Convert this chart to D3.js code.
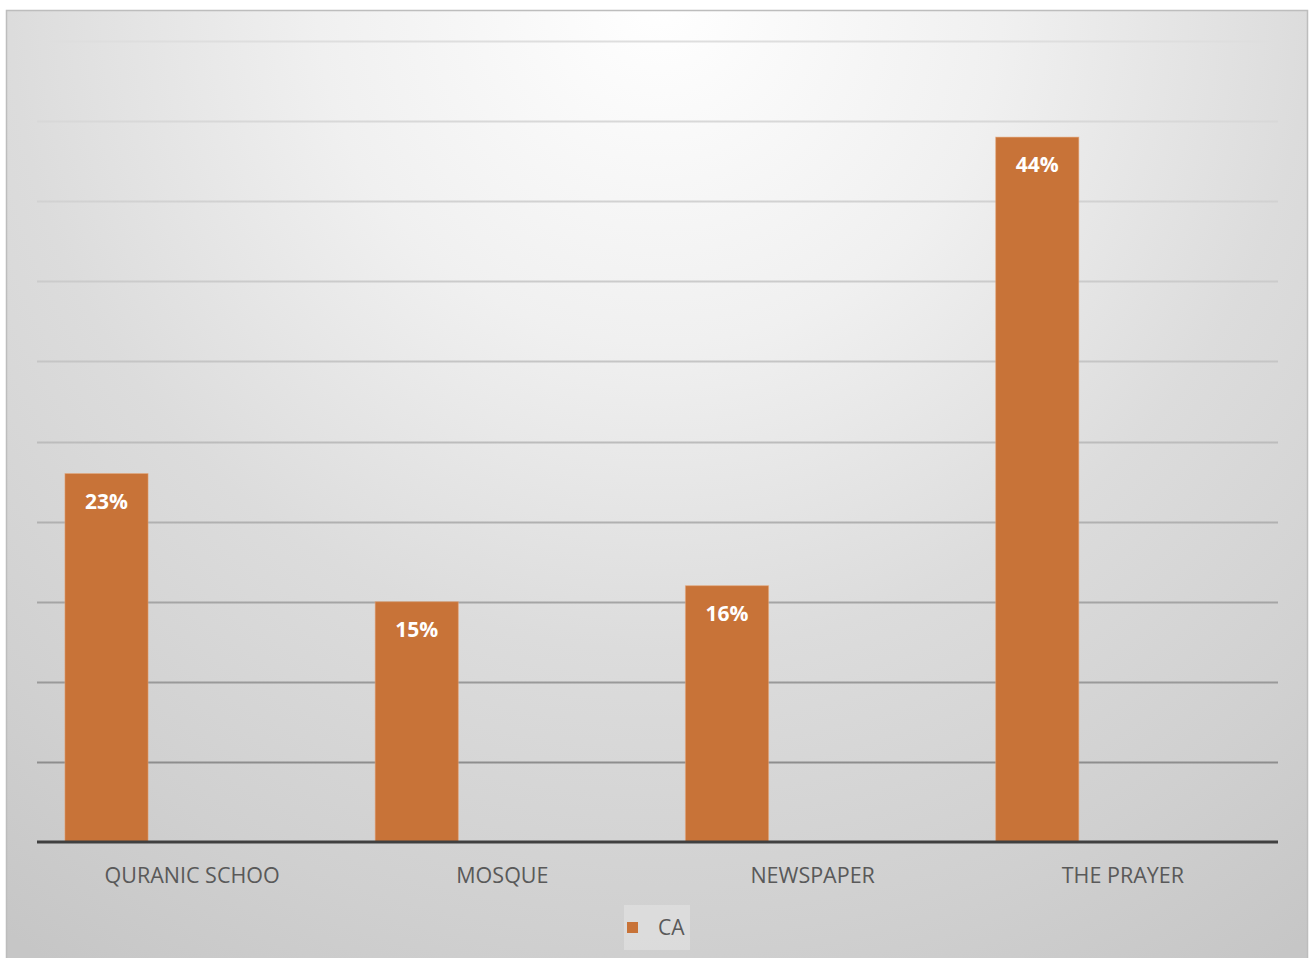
<!DOCTYPE html>
<html>
<head>
<meta charset="utf-8">
<script src="https://cdn.jsdelivr.net/npm/d3@7"></script>
<style>
  html, body { margin: 0; padding: 0; background: #ffffff; }
  svg { display: block; }
</style>
</head>
<body>
<svg id="chart" width="1314" height="958"></svg>
<script>
// Share of responses for series "CA" by source
const categories = ["QURANIC SCHOO", "MOSQUE", "NEWSPAPER", "THE PRAYER"];
const seriesName = "CA";
const caValues = [0.23, 0.15, 0.16, 0.44];
const yTicks = [0, 0.05, 0.1, 0.15, 0.2, 0.25, 0.3, 0.35, 0.4, 0.45, 0.5];

const W = 1314, H = 958;
const frame = { left: 6, top: 10, right: 1308, bottom: 958 };
const plot = { left: 37, right: 1278, top: 41, bottom: 842 };
const barColor = "#c87338";
const font = "'Open Sans', 'Noto Sans', sans-serif";

const svg = d3.select("#chart");
const defs = svg.append("defs");

// Chart-area fill: light at top centre, fading to grey toward the corners
const bg = defs.append("radialGradient")
  .attr("id", "bgGrad")
  .attr("gradientUnits", "userSpaceOnUse")
  .attr("cx", 660).attr("cy", 0).attr("r", 1140);
[[0, "#ffffff"], [0.3, "#f0f0f0"], [0.57, "#dcdcdc"], [0.82, "#d0d0d0"], [1, "#c6c6c6"]]
  .forEach(([o, c]) => bg.append("stop").attr("offset", o).attr("stop-color", c));

// Gridlines darken from top to bottom
const gg = defs.append("linearGradient")
  .attr("id", "gridGrad")
  .attr("gradientUnits", "userSpaceOnUse")
  .attr("x1", 0).attr("y1", plot.top).attr("x2", 0).attr("y2", plot.bottom);
[[0, "#dedede"], [0.45, "#c2c2c2"], [1, "#828282"]]
  .forEach(([o, c]) => gg.append("stop").attr("offset", o).attr("stop-color", c));

svg.append("rect")
  .attr("x", frame.left + 0.5).attr("y", frame.top + 0.5)
  .attr("width", frame.right - frame.left - 1)
  .attr("height", frame.bottom - frame.top + 5)
  .attr("fill", "url(#bgGrad)")
  .attr("stroke", "#bdbdbd")
  .attr("stroke-width", 1.5);

const x = d3.scaleBand().domain(categories).range([plot.left, plot.right]).padding(0);
const y = d3.scaleLinear().domain([0, 0.5]).range([plot.bottom, plot.top]);

// Horizontal gridlines
svg.append("g")
  .selectAll("line")
  .data(yTicks.filter(t => t > 0))
  .join("line")
  .attr("x1", plot.left).attr("x2", plot.right)
  .attr("y1", d => Math.round(y(d)) + 0.5).attr("y2", d => Math.round(y(d)) + 0.5)
  .attr("stroke", "url(#gridGrad)")
  .attr("stroke-width", 2);

// Bars sit in the first slot of each category band
const barW = x.bandwidth() * 0.268;
const barOff = x.bandwidth() * 0.09;

const bars = svg.append("g")
  .selectAll("g")
  .data(categories.map((c, i) => ({ cat: c, v: caValues[i] })))
  .join("g");

bars.append("rect")
  .attr("x", d => x(d.cat) + barOff)
  .attr("y", d => y(d.v))
  .attr("width", barW)
  .attr("height", d => y(0) - y(d.v))
  .attr("fill", barColor)
  .attr("stroke", "#e7a77a")
  .attr("stroke-opacity", 0.5)
  .attr("stroke-width", 1);

bars.append("text")
  .attr("x", d => x(d.cat) + barOff + barW / 2)
  .attr("y", d => y(d.v) + 35)
  .attr("text-anchor", "middle")
  .attr("font-family", font)
  .attr("font-weight", "bold")
  .attr("font-size", 21)
  .attr("fill", "#ffffff")
  .text(d => d3.format(".0%")(d.v));

// Category axis
const xAxis = svg.append("g")
  .attr("transform", `translate(0,${plot.bottom})`)
  .call(d3.axisBottom(x).tickSize(0).tickPadding(0));
xAxis.select(".domain")
  .attr("d", `M${plot.left},0H${plot.right}`)
  .attr("stroke", "#404040")
  .attr("stroke-width", 3);
xAxis.selectAll("text")
  .attr("y", 41)
  .attr("dy", null)
  .attr("font-family", font)
  .attr("font-size", 21.5)
  .attr("fill", "#595959");

// Legend
const legend = svg.append("g");
legend.append("rect")
  .attr("x", 624).attr("y", 905).attr("width", 66).attr("height", 45)
  .attr("fill", "#ffffff").attr("opacity", 0.25);
legend.append("rect")
  .attr("x", 627).attr("y", 922).attr("width", 11).attr("height", 11)
  .attr("fill", barColor);
legend.append("text")
  .attr("x", 658).attr("y", 935)
  .attr("font-family", font)
  .attr("font-size", 21)
  .attr("fill", "#595959")
  .text(seriesName);
</script>
</body>
</html>
